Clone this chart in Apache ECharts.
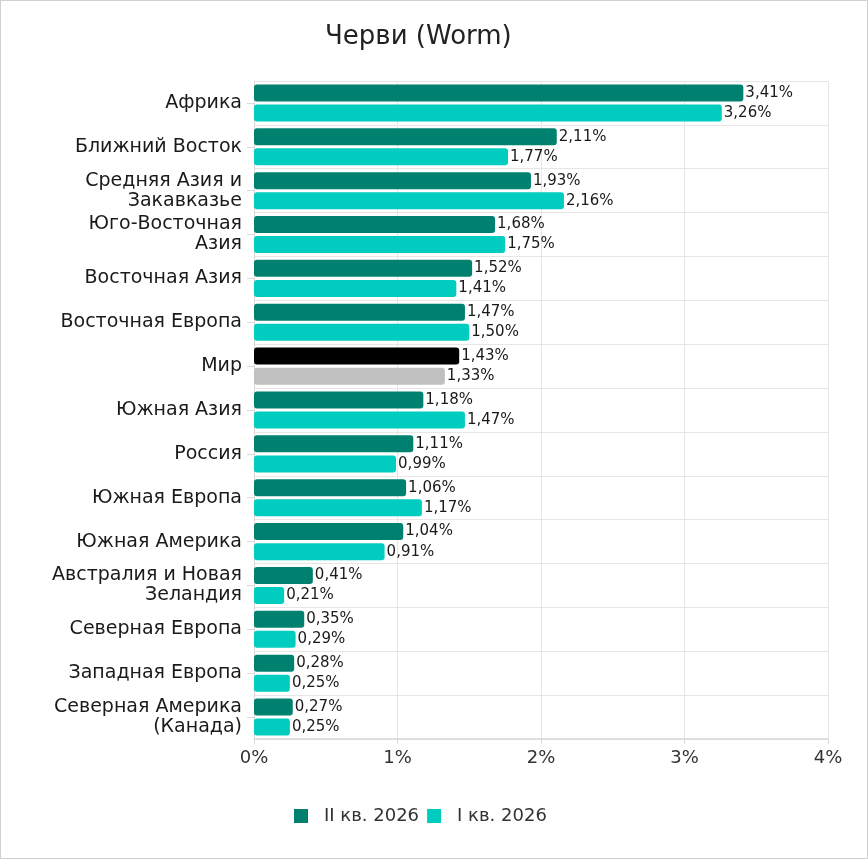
<!DOCTYPE html>
<html><head><meta charset="utf-8">
<script src="https://cdn.jsdelivr.net/npm/echarts@6/dist/echarts.min.js"></script>
<style>html,body{margin:0;padding:0;background:#fff}#c{width:868px;height:859px;box-sizing:border-box;border:1px solid #d0d0d0}</style>
</head><body><div id="c"></div>
<script>
const categories = ["Африка","Ближний Восток","Средняя Азия и\nЗакавказье","Юго-Восточная\nАзия","Восточная Азия","Восточная Европа","Мир","Южная Азия","Россия","Южная Европа","Южная Америка","Австралия и Новая\nЗеландия","Северная Европа","Западная Европа","Северная Америка\n(Канада)"];
const q2 = [3.41,2.11,1.93,1.68,1.52,1.47,1.43,1.18,1.11,1.06,1.04,0.41,0.35,0.28,0.27];
const q1 = [3.26,1.77,2.16,1.75,1.41,1.50,1.33,1.47,0.99,1.17,0.91,0.21,0.29,0.25,0.25];
const seriesNames = ["II кв. 2026","I кв. 2026"];
const xTicks = [0,1,2,3,4];

const FONT = "DejaVu Sans";
const C2 = "#008170", C1 = "#00CCBF";
const worldIdx = categories.indexOf("Мир");
function mk(vals, col, worldCol){
  return vals.map((v,i)=> i===worldIdx ? {value:v, itemStyle:{color:worldCol}} : v);
}
const lbl = {show:true, position:'right', distance:2, color:'#1a1a1a', fontSize:15, fontFamily:FONT,
  formatter:p=>p.value.toFixed(2).replace('.',',')+'%'};
const chart = echarts.init(document.getElementById('c'));
chart.setOption({
  animation:false,
  title:{text:'Черви (Worm)', left:319, top:18, textStyle:{fontFamily:FONT, fontSize:26, fontWeight:'normal', color:'#222'}},
  grid:{left:253, right:39, top:80, bottom:119, containLabel:false},
  legend:{bottom:28, left:288, itemWidth:14, itemHeight:14, itemGap:8, icon:'rect',
    textStyle:{fontFamily:FONT, fontSize:18, color:'#333', padding:[0,0,0,11]}, data:seriesNames},
  xAxis:{type:'value', min:0, max:4, interval:1,
    axisLine:{show:true, lineStyle:{color:'#d9d9d9', width:1.5}},
    axisTick:{show:true, length:5, lineStyle:{color:'#d9d9d9'}},
    splitLine:{show:true, lineStyle:{color:'#e6e6e6'}},
    axisLabel:{fontFamily:FONT, fontSize:18, color:'#333', margin:10, formatter:v=>v+'%'}},
  yAxis:[{type:'category', inverse:true, data:categories,
    axisLine:{show:true, lineStyle:{color:'#d9d9d9'}},
    axisTick:{show:false},
    splitLine:{show:true, lineStyle:{color:'#e6e6e6'}},
    axisLabel:{fontFamily:FONT, fontSize:19, color:'#1a1a1a', margin:12, lineHeight:20, align:'right'}},
   {type:'category', inverse:true, data:categories, position:'left',
    axisLine:{show:false}, axisLabel:{show:false}, splitLine:{show:false},
    axisTick:{show:true, alignWithLabel:true, length:7, lineStyle:{color:'#d9d9d9'}}}],
  series:[
    {name:seriesNames[0], type:'bar', yAxisIndex:0, data:mk(q2,C2,'#000000'), itemStyle:{color:C2, borderRadius:3},
     barWidth:17, barGap:'18%', label:lbl},
    {name:seriesNames[1], type:'bar', yAxisIndex:0, data:mk(q1,C1,'#c0c0c0'), itemStyle:{color:C1, borderRadius:3},
     barWidth:17, label:lbl}
  ]
});
</script></body></html>
